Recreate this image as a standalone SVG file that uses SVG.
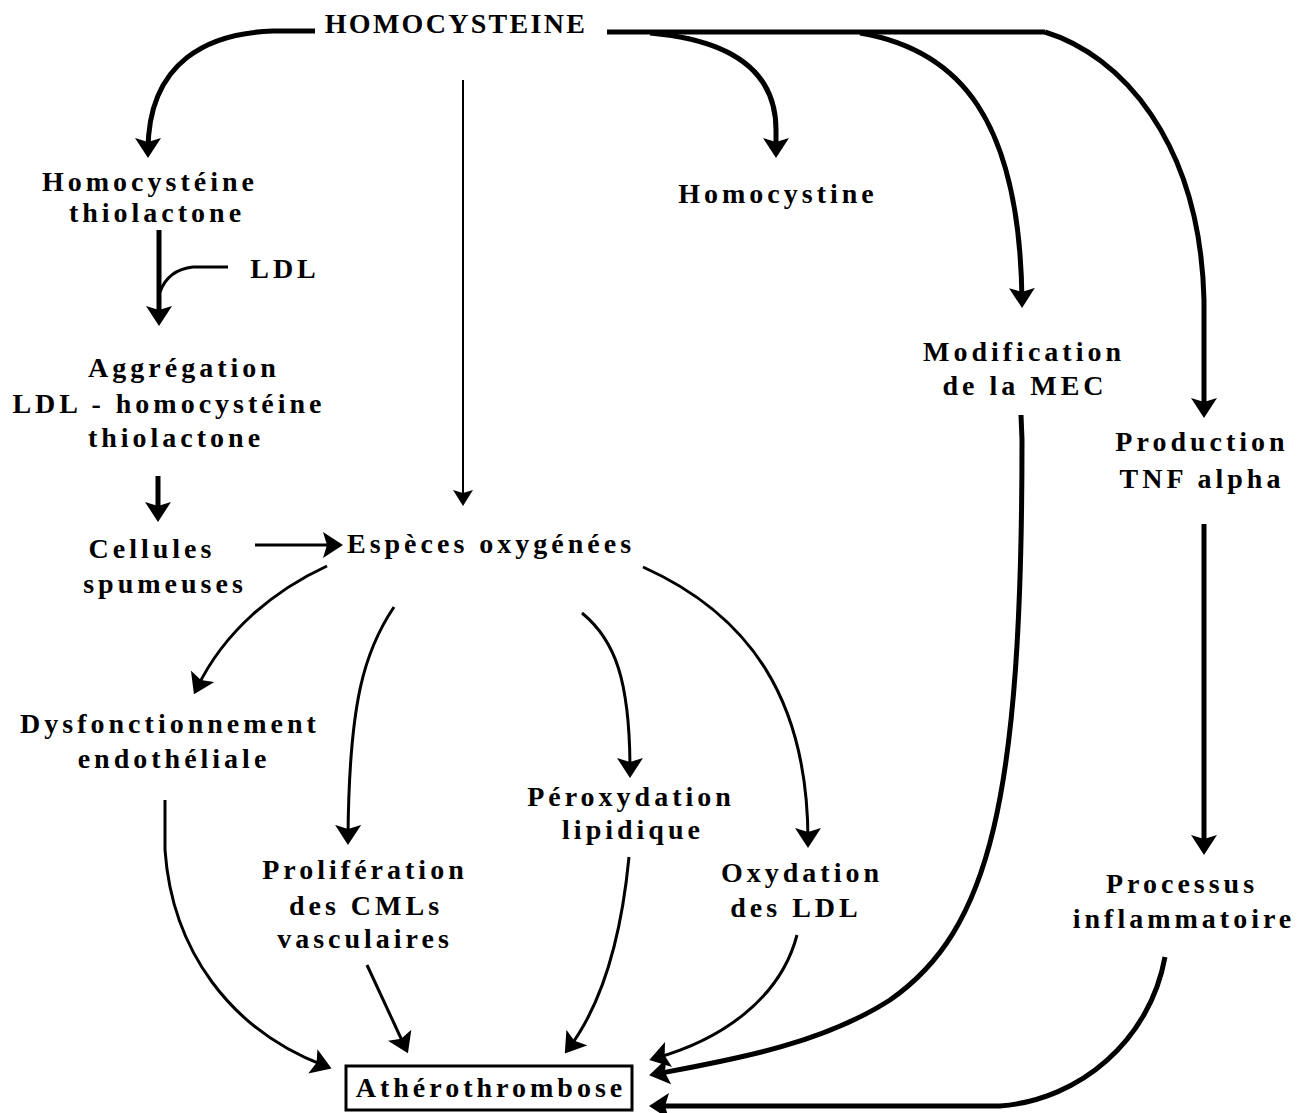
<svg xmlns="http://www.w3.org/2000/svg" width="1304" height="1113" viewBox="0 0 1304 1113">
<style>
text{font-family:"Liberation Serif","Times New Roman",serif;font-weight:bold;font-size:28px;letter-spacing:4px;text-anchor:middle;fill:#000}
.thick{fill:none;stroke:#000;stroke-width:5}
.mid{fill:none;stroke:#000;stroke-width:3}
.thin{fill:none;stroke:#000;stroke-width:2}
</style>
<defs>
<marker id="big" viewBox="0 0 20 26" markerWidth="20" markerHeight="26" refX="13" refY="13" orient="auto" markerUnits="userSpaceOnUse">
<path d="M0,0 L20,13 L0,26 L4,13 z" fill="#000"/>
</marker>
<marker id="small" viewBox="0 0 16 20" markerWidth="16" markerHeight="20" refX="10" refY="10" orient="auto" markerUnits="userSpaceOnUse">
<path d="M0,0 L16,10 L0,20 L3,10 z" fill="#000"/>
</marker>
</defs>
<rect width="1304" height="1113" fill="#fff"/>
<g id="connectors">
<path class="thick" d="M315 31 L273 31 C210 33 148 60 148 151" marker-end="url(#big)"/>
<path class="thick" d="M607 32 L1045 32"/>
<path class="thick" d="M650 33 C730 40 776 70 776 130 L776 151" marker-end="url(#big)"/>
<path class="thick" d="M860 33 C960 50 1020 120 1022 301" marker-end="url(#big)"/>
<path class="thick" d="M1045 32 C1120 55 1200 140 1204 300 L1204 411" marker-end="url(#big)"/>
<path class="thin" d="M463 80 L463 500" marker-end="url(#small)"/>
<path class="thick" d="M159 230 L159 319" marker-end="url(#big)"/>
<path class="mid" d="M228 267 L193 267 C175 269 165 278 160 292"/>
<path class="thick" d="M158 476 L158 515" marker-end="url(#big)"/>
<path class="mid" d="M255 545 L336 545" marker-end="url(#big)"/>
<path class="mid" d="M327 566 C275 590 225 630 197 688" marker-end="url(#big)"/>
<path class="mid" d="M394 607 C365 650 349 700 348 838" marker-end="url(#big)"/>
<path class="mid" d="M582 613 C615 640 630 680 630 771" marker-end="url(#big)"/>
<path class="mid" d="M643 567 C750 615 808 700 808 841" marker-end="url(#big)"/>
<path class="mid" d="M165 800 L165 850 C172 950 230 1030 325 1066" marker-end="url(#big)"/>
<path class="mid" d="M367 965 L405 1047" marker-end="url(#big)"/>
<path class="mid" d="M629 857 C622 930 605 1000 569 1048" marker-end="url(#big)"/>
<path class="mid" d="M797 935 C780 1000 720 1040 656 1058" marker-end="url(#big)"/>
<path class="thick" d="M1021 415 L1022 440 C1022 800 990 930 890 1000 C820 1045 730 1060 656 1074" marker-end="url(#big)"/>
<path class="thick" d="M1165 957 C1150 1040 1080 1100 1000 1106 L656 1106" marker-end="url(#big)"/>
<path class="thick" d="M1204 524 L1204 848" marker-end="url(#big)"/>
</g>
<g id="homocysteine"><text x="456" y="33" style="letter-spacing:2.3px">HOMOCYSTEINE</text></g>
<g id="thiolactone"><text x="150" y="191">Homocystéine</text><text x="157" y="222">thiolactone</text></g>
<g id="ldl"><text x="285" y="278">LDL</text></g>
<g id="homocystine"><text x="778" y="203">Homocystine</text></g>
<g id="aggregation"><text x="184" y="377">Aggrégation</text><text x="169" y="413">LDL - homocystéine</text><text x="176" y="447">thiolactone</text></g>
<g id="cellules"><text x="152" y="558">Cellules</text><text x="165" y="593">spumeuses</text></g>
<g id="especes"><text x="491" y="553">Espèces oxygénées</text></g>
<g id="modification"><text x="1024" y="361">Modification</text><text x="1025" y="395">de la MEC</text></g>
<g id="production"><text x="1202" y="451">Production</text><text x="1202" y="488">TNF alpha</text></g>
<g id="dysfonctionnement"><text x="170" y="733">Dysfonctionnement</text><text x="174" y="768">endothéliale</text></g>
<g id="proliferation"><text x="365" y="879">Prolifération</text><text x="366" y="915">des CMLs</text><text x="365" y="948">vasculaires</text></g>
<g id="peroxydation"><text x="631" y="806">Péroxydation</text><text x="633" y="839">lipidique</text></g>
<g id="oxydation"><text x="802" y="882">Oxydation</text><text x="796" y="917">des LDL</text></g>
<g id="processus"><text x="1182" y="893">Processus</text><text x="1184" y="928">inflammatoire</text></g>
<g id="atherothrombose"><rect x="346" y="1066" width="286" height="44" fill="#fff" stroke="#000" stroke-width="3"/><text x="491" y="1097">Athérothrombose</text></g>
</svg>
